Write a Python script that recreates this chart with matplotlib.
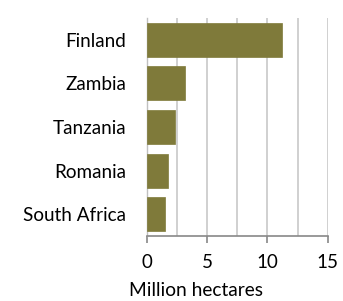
import matplotlib
matplotlib.use("Agg")
import matplotlib.pyplot as plt
from matplotlib.ticker import MultipleLocator

countries = ["Finland", "Zambia", "Tanzania", "Romania", "South Africa"]
values = [11.24, 3.21, 2.38, 1.75, 1.53]
xticks = [0, 5, 10, 15]
xlabel = "Million hectares"

fig = plt.figure(figsize=(3.43, 3.01), dpi=100)
ax = fig.add_axes([146.5/343, 1-236/301, (327.7-146.5)/343, (236-18)/301])

y = list(range(len(countries)))
ax.barh(y, values, height=0.78, color="#7F7A3A", edgecolor="#7F7A3A", linewidth=0.5, zorder=3)
ax.set_ylim(len(countries)-0.5, -0.5)
ax.set_xlim(0, 15)
ax.set_yticks(y)
ax.set_yticklabels(countries, family=["Lato", "DejaVu Sans"], fontsize=13.6)
ax.set_xticks(xticks)
ax.set_xticklabels([str(t) for t in xticks], family=["Lato", "DejaVu Sans"], fontsize=13.5)
ax.xaxis.set_minor_locator(MultipleLocator(2.5))
ax.grid(axis="x", which="both", color="#C8C8C8", linewidth=1.2, zorder=0)
ax.set_xlabel(xlabel, family=["Lato", "DejaVu Sans"], fontsize=13.8)
ax.xaxis.set_label_coords(0.275, -0.213)
for s in ["top", "right"]:
    ax.spines[s].set_visible(False)
ax.spines["left"].set_color("#C0C0C0")
ax.spines["left"].set_linewidth(1.0)
ax.spines["bottom"].set_color("#888888")
ax.spines["bottom"].set_linewidth(1.2)
ax.tick_params(axis="y", length=0, pad=14.5)
ax.tick_params(axis="x", which="major", length=5, width=1.2, color="#888888", pad=8)
ax.tick_params(axis="x", which="minor", length=0)
fig.savefig("out.png", dpi=100)
